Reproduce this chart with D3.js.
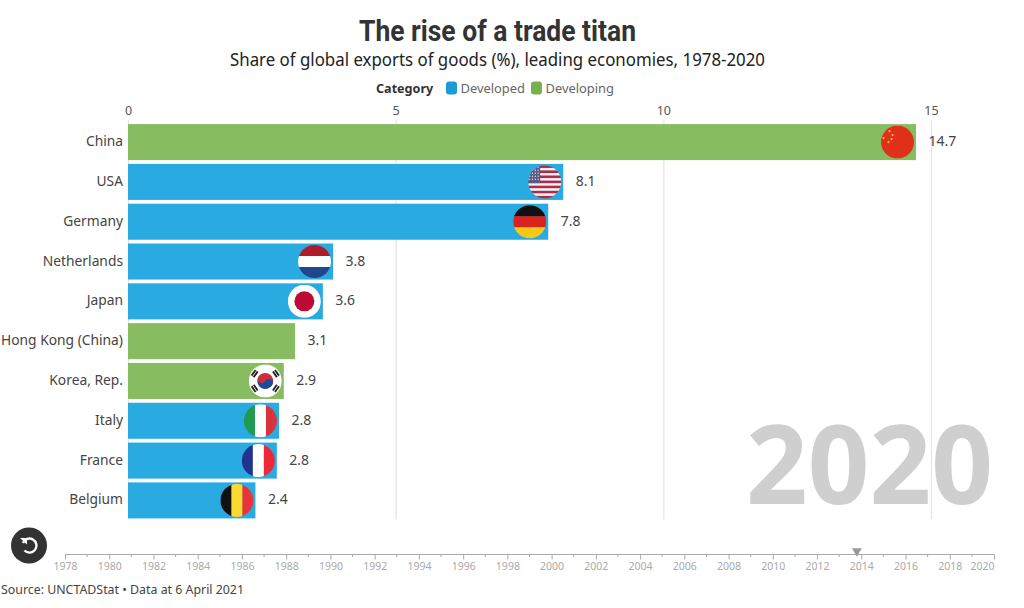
<!DOCTYPE html>
<html>
<head>
<meta charset="utf-8">
<script src="https://cdn.jsdelivr.net/npm/d3@7"></script>
<style>
  html, body { margin: 0; padding: 0; background: #fff; }
  text { font-family: "Noto Sans", "Open Sans", sans-serif; }
  .axis path { display: none; }
  .x-axis text { font-size: 12.5px; fill: #555; }
  .x-axis line { stroke: #e4e4e4; stroke-width: 1.2; }
  .time-axis text { font-size: 10.5px; fill: #aaa; }
  .time-axis line, .time-axis path { stroke: #aaa; }
</style>
</head>
<body>
<div id="chart"></div>
<script>
const countries = ['China', 'USA', 'Germany', 'Netherlands', 'Japan', 'Hong Kong (China)', 'Korea, Rep.', 'Italy', 'France', 'Belgium']
const shares = [14.72, 8.13, 7.85, 3.83, 3.64, 3.12, 2.91, 2.82, 2.78, 2.38]
const shareLabels = ['14.7', '8.1', '7.8', '3.8', '3.6', '3.1', '2.9', '2.8', '2.8', '2.4']
const groups = ['Developing', 'Developed', 'Developed', 'Developed', 'Developed', 'Developing', 'Developing', 'Developed', 'Developed', 'Developed']
const categories = ['Developed', 'Developing']
const xTicks = [0, 5, 10, 15]
const timeTicks = d3.range(1978, 2021)
const timeLabels = d3.range(1978, 2021, 2)
const currentYear = '2020'
const sliderYear = 2013.8

const width = 1024
const height = 608
const margin = { top: 120, left: 128, right: 93, bottom: 88 }

const svg = d3
  .select('#chart')
  .append('svg')
  .attr('width', width)
  .attr('height', height)
  .style('display', 'block')

const defs = svg.append('defs')

const xPositionScale = d3
  .scaleLinear()
  .domain([0, 15])
  .range([margin.left, width - margin.right])

const yPositionScale = d3
  .scaleBand()
  .domain(countries)
  .range([122.5, 520])
  .paddingInner(0.095)
  .paddingOuter(0.04)

const colorScale = d3
  .scaleOrdinal()
  .domain(categories)
  .range(['#29abe2', '#87bc61'])

const timeScale = d3
  .scaleLinear()
  .domain([1978, 2020])
  .range([65, 994])

// titles
svg
  .append('text')
  .attr('x', 497.5)
  .attr('y', 41)
  .attr('text-anchor', 'middle')
  .style('font-family', 'Roboto, sans-serif')
  .style('font-weight', 700)
  .style('font-size', '30px')
  .attr('textLength', 277)
  .attr('lengthAdjust', 'spacingAndGlyphs')
  .attr('fill', '#333')
  .text('The rise of a trade titan')

svg
  .append('text')
  .attr('x', 497.5)
  .attr('y', 66)
  .attr('text-anchor', 'middle')
  .style('font-size', '18px')
  .attr('textLength', 535)
  .attr('lengthAdjust', 'spacingAndGlyphs')
  .attr('fill', '#222')
  .text('Share of global exports of goods (%), leading economies, 1978-2020')

// legend
svg
  .append('text')
  .attr('x', 376)
  .attr('y', 92.5)
  .style('font-size', '12.6px')
  .style('font-weight', 700)
  .attr('fill', '#333')
  .text('Category')

const legendX = d3.scaleOrdinal().domain(categories).range([446, 531])
categories.forEach(function(c) {
  svg
    .append('rect')
    .attr('x', legendX(c))
    .attr('y', 81.5)
    .attr('width', 11)
    .attr('height', 13)
    .attr('rx', 3)
    .attr('fill', c === 'Developed' ? '#1a9ad6' : '#79b04e')
  svg
    .append('text')
    .attr('x', legendX(c) + 14.5)
    .attr('y', 92.5)
    .style('font-size', '12.9px')
    .attr('fill', '#666')
    .text(c)
})

// axis on top, gridlines behind the bars
const xAxis = d3
  .axisTop(xPositionScale)
  .tickValues(xTicks)
  .tickSize(-399)
  .tickPadding(5)
  .tickFormat(d3.format('d'))

svg
  .append('g')
  .attr('class', 'axis x-axis')
  .attr('transform', 'translate(0,120)')
  .call(xAxis)

svg.selectAll('.x-axis text').attr('y', -5)

// big year
svg
  .append('text')
  .attr('x', 993)
  .attr('y', 504)
  .attr('text-anchor', 'end')
  .style('font-size', '110px')
  .style('font-weight', 700)
  .attr('textLength', 247)
  .attr('lengthAdjust', 'spacingAndGlyphs')
  .attr('fill', '#cfcfcf')
  .text(currentYear)

// bars
svg
  .selectAll('.bar')
  .data(countries)
  .enter()
  .append('rect')
  .attr('class', 'bar')
  .attr('x', xPositionScale(0))
  .attr('y', d => yPositionScale(d))
  .attr('width', (d, i) => xPositionScale(shares[i]) - xPositionScale(0))
  .attr('height', yPositionScale.bandwidth())
  .attr('fill', (d, i) => colorScale(groups[i]))

svg
  .selectAll('.name')
  .data(countries)
  .enter()
  .append('text')
  .attr('class', 'name')
  .attr('x', 123)
  .attr('y', d => yPositionScale(d) + yPositionScale.bandwidth() / 2 + 4)
  .attr('text-anchor', 'end')
  .style('font-size', '13.8px')
  .attr('fill', '#444')
  .text(d => d)

svg
  .selectAll('.value')
  .data(countries)
  .enter()
  .append('text')
  .attr('class', 'value')
  .attr('x', (d, i) => xPositionScale(shares[i]) + 12.5)
  .attr('y', d => yPositionScale(d) + yPositionScale.bandwidth() / 2 + 4)
  .style('font-size', '14px')
  .attr('fill', '#444')
  .text((d, i) => shareLabels[i])

// flags, each drawn in a 34x34 box clipped to a circle
const r = 16.5

function stripesH(g, cols) {
  const h = (r * 2) / cols.length
  cols.forEach(function(c, i) {
    g.append('rect').attr('x', -r).attr('y', -r + i * h).attr('width', r * 2).attr('height', h + 0.3).attr('fill', c)
  })
}

function stripesV(g, cols) {
  const w = (r * 2) / cols.length
  cols.forEach(function(c, i) {
    g.append('rect').attr('x', -r + i * w).attr('y', -r).attr('width', w + 0.3).attr('height', r * 2).attr('fill', c)
  })
}

const flags = {
  China: function(g) {
    g.append('rect').attr('x', -r).attr('y', -r).attr('width', r * 2).attr('height', r * 2).attr('fill', '#e1301a')
    const stars = [[-14, -4, 1.1], [-8, -11, 1.1], [-5, -7, 1.1], [-6, -3, 1.1], [-9, 0, 1.1]]
    stars.forEach(function(s) {
      g.append('circle').attr('cx', s[0]).attr('cy', s[1]).attr('r', s[2]).attr('fill', '#f3c33a')
    })
  },
  USA: function(g) {
    const h = (r * 2) / 13
    d3.range(13).forEach(function(i) {
      g.append('rect').attr('x', -r).attr('y', -r + i * h).attr('width', r * 2).attr('height', h + 0.2)
        .attr('fill', i % 2 ? '#f4f0f0' : '#b22a45')
    })
    g.append('rect').attr('x', -r).attr('y', -r).attr('width', 12).attr('height', h * 7).attr('fill', '#5a5a86')
    d3.range(5).forEach(function(row) {
      d3.range(4).forEach(function(col) {
        g.append('circle').attr('cx', -r + 1.5 + col * 2.8).attr('cy', -r + 1.8 + row * 3).attr('r', 0.7).attr('fill', '#ddd')
      })
    })
  },
  Germany: g => stripesH(g, ['#111', '#d8231f', '#f7c917']),
  Netherlands: g => stripesH(g, ['#ae1c2b', '#fff', '#21468b']),
  Japan: function(g) {
    g.append('rect').attr('x', -r).attr('y', -r).attr('width', r * 2).attr('height', r * 2).attr('fill', '#fff')
    g.append('circle').attr('r', 10).attr('fill', '#bc0a34')
  },
  'Korea, Rep.': function(g) {
    g.append('rect').attr('x', -r).attr('y', -r).attr('width', r * 2).attr('height', r * 2).attr('fill', '#fff')
    g.append('g').attr('transform', 'rotate(30)').call(function(t) {
      t.append('path').attr('d', 'M-8,0A8,8 0 0 1 8,0Z').attr('fill', '#cd2e3a')
      t.append('path').attr('d', 'M-8,0A8,8 0 0 0 8,0Z').attr('fill', '#1f4a9c')
      t.append('circle').attr('cx', -4).attr('r', 4).attr('fill', '#cd2e3a')
      t.append('circle').attr('cx', 4).attr('r', 4).attr('fill', '#1f4a9c')
    })
    const bars = [[-55, -13], [55, -13], [125, -13], [235, -13]]
    bars.forEach(function(b) {
      g.append('g').attr('transform', 'rotate(' + b[0] + ') translate(0,' + b[1] + ')').call(function(t) {
        t.append('rect').attr('x', -3.5).attr('y', -2.2).attr('width', 7).attr('height', 4.4).attr('fill', '#222')
        t.append('rect').attr('x', -3.5).attr('y', -0.4).attr('width', 7).attr('height', 0.8).attr('fill', '#fff')
      })
    })
  },
  Italy: g => stripesV(g, ['#1f9a50', '#fff', '#d8333b']),
  France: g => stripesV(g, ['#20338f', '#fff', '#ed2939']),
  Belgium: g => stripesV(g, ['#111', '#fbd92f', '#e8343a'])
}

defs
  .append('clipPath')
  .attr('id', 'flag-clip')
  .append('circle')
  .attr('r', r)

countries.forEach(function(c, i) {
  if (!flags[c]) return
  const g = svg
    .append('g')
    .attr('transform', 'translate(' + (xPositionScale(shares[i]) - 18.5) + ',' + (yPositionScale(c) + yPositionScale.bandwidth() / 2) + ')')
    .append('g')
    .attr('clip-path', 'url(#flag-clip)')
  flags[c](g)
})

// replay button
const replay = svg.append('g').attr('transform', 'translate(29,545.5)')
replay.append('circle').attr('r', 18).attr('fill', '#333')
replay
  .append('path')
  .attr('d', 'M-6,-2.5A7,7 0 1 1 -4.5,5')
  .attr('fill', 'none')
  .attr('stroke', '#fff')
  .attr('stroke-width', 2.4)
replay.append('path').attr('d', 'M-9,-7.5L-2,-7.5L-2,-1Z').attr('fill', '#fff')

// timeline
const timeAxis = d3
  .axisBottom(timeScale)
  .tickValues(timeLabels)
  .tickSize(5)
  .tickSizeOuter(0)
  .tickPadding(3)
  .tickFormat(d3.format('d'))

const timeG = svg
  .append('g')
  .attr('class', 'axis time-axis')
  .attr('transform', 'translate(0,554.5)')
  .call(timeAxis)

timeG
  .selectAll('.minor')
  .data(timeTicks.filter(d => !timeLabels.includes(d)))
  .enter()
  .append('line')
  .attr('class', 'minor')
  .attr('x1', d => timeScale(d))
  .attr('x2', d => timeScale(d))
  .attr('y2', 2.5)

timeG.append('line').attr('x1', timeScale(1978)).attr('x2', timeScale(2020))

timeG
  .selectAll('.tick text')
  .filter(d => d === 2020)
  .attr('text-anchor', 'end')

svg
  .append('path')
  .attr('d', d3.symbol().type(d3.symbolTriangle).size(42))
  .attr('transform', 'translate(' + timeScale(sliderYear) + ',551) rotate(180)')
  .attr('fill', '#999')

// source
svg
  .append('text')
  .attr('x', 1)
  .attr('y', 594)
  .style('font-size', '13px')
  .attr('textLength', 243)
  .attr('lengthAdjust', 'spacingAndGlyphs')
  .attr('fill', '#444')
  .text('Source: UNCTADStat • Data at 6 April 2021')
</script>
</body>
</html>
